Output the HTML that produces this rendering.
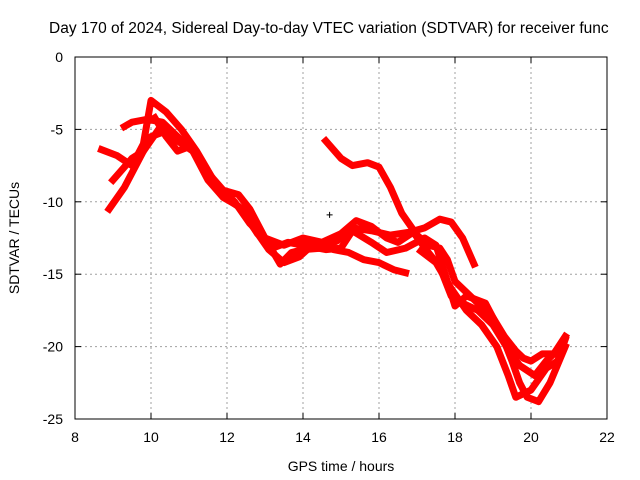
<!DOCTYPE html>
<html><head><meta charset="utf-8"><style>
body{margin:0;background:#fff;}
svg{display:block;font-family:"Liberation Sans",sans-serif;}
</style></head><body>
<svg id="chart" width="640" height="480" viewBox="0 0 640 480">
<rect width="640" height="480" fill="#fff"/>
<text x="49" y="33" font-size="15.5" fill="#000">Day 170 of 2024, Sidereal Day-to-day VTEC variation (SDTVAR) for receiver func</text>
<g id="grid"></g>
<g id="series"></g>
<g id="axes"></g>
<text x="341" y="471" font-size="14" text-anchor="middle">GPS time / hours</text>
<text transform="translate(19,238) rotate(-90)" font-size="14" text-anchor="middle">SDTVAR / TECUs</text>
</svg>
<script>
const xTicks=[8,10,12,14,16,18,20,22];
const yTicks=[0,-5,-10,-15,-20,-25];
const track1=[[8.7,-6.4],[9.1,-6.8],[9.5,-7.5],[9.8,-6],[10.0,-3.0],[10.4,-3.8],[10.8,-5],[11.2,-6.5],[11.6,-8.3],[12,-9.8],[12.4,-10.5],[12.8,-12.2],[13.2,-13.2],[13.6,-12.8],[14,-13],[14.4,-12.8],[14.8,-13.3],[15.2,-13.5],[15.6,-14],[16,-14.2],[16.4,-14.7],[16.7,-14.9]];
const track2=[[8.9,-10.5],[9.3,-9],[9.6,-7.5],[10.0,-5.5],[10.3,-5.2],[10.7,-5.8],[11.1,-6.5],[11.5,-8],[11.9,-9.2],[12.3,-9.5],[12.6,-10.5],[13.0,-12.5],[13.4,-14.3],[13.7,-13.5],[14.0,-13.3],[14.5,-13.2],[14.9,-12.7],[15.3,-11.8],[15.8,-12],[16.3,-12.3],[16.8,-12.1],[17.2,-11.8],[17.6,-11.2],[17.9,-11.4],[18.2,-12.5],[18.5,-14.3]];
const track3=[[14.6,-5.8],[15.0,-7],[15.3,-7.5],[15.7,-7.3],[16.0,-7.6],[16.3,-9],[16.6,-10.8],[17.0,-12.3],[17.3,-13],[17.6,-13.2],[17.8,-14],[18.0,-15.5],[18.4,-16.5],[18.8,-17.5],[19.0,-18],[19.3,-19.3],[19.6,-20.3],[19.8,-20.8],[20.0,-21],[20.3,-20.5],[20.6,-20.5],[20.9,-19.3]];
const track4=[[9.0,-8.5],[9.5,-7],[9.8,-6.5],[10.2,-5],[10.6,-5.5],[11.0,-6],[11.4,-7.8],[11.8,-9],[12.2,-10],[12.6,-11.5],[13,-12.5],[13.5,-13],[14,-12.5],[14.5,-12.8],[15,-12.2],[15.4,-11.3],[15.8,-11.7],[16.2,-12.5],[16.5,-12.8],[16.9,-12.1],[17.3,-13.5],[17.6,-14.5],[17.9,-16.5],[18.2,-17],[18.6,-17.5],[19,-18.5],[19.4,-20.2],[19.7,-21.3],[20.1,-22],[20.4,-21],[20.8,-20]];
const track5=[[9.3,-4.8],[9.5,-4.5],[9.9,-4.3],[10.3,-4.5],[10.7,-5.5],[11.1,-6.5],[11.5,-8.5],[11.9,-9.7],[12.3,-10.3],[12.7,-11.8],[13.1,-13.3],[13.5,-14.2],[13.9,-13.8],[14.2,-13.1],[14.6,-13.3],[15.0,-13.2],[15.3,-12],[15.8,-12.8],[16.2,-13.5],[16.7,-13.2],[17.2,-12.5],[17.5,-13],[17.8,-15.5],[18.0,-17.2],[18.3,-16.5],[18.8,-17],[19.2,-19],[19.5,-21],[19.7,-22.5],[19.9,-23.5],[20.2,-23.8],[20.5,-22.5],[20.9,-20]];
const track6=[[17.1,-13.4],[17.5,-14.2],[17.9,-16],[18.3,-17.5],[18.7,-18.5],[19.1,-20],[19.4,-22],[19.6,-23.5],[20,-23],[20.4,-21.5],[20.7,-21],[20.9,-19.5]];
const track7=[[10.1,-4.2],[10.4,-5.5],[10.7,-6.5],[10.9,-6.3]];
const tracks=[track1,track2,track3,track4,track5,track6,track7];
const blackMark=[14.7,-10.9];

const X0=75,X1=607,Y0=57,Y1=419;
const sx=v=>X0+(v-8)/(22-8)*(X1-X0);
const sy=v=>Y0+(0-v)/25*(Y1-Y0);
const NS='http://www.w3.org/2000/svg';
function mk(tag,attrs,parent){const e=document.createElementNS(NS,tag);for(const k in attrs)e.setAttribute(k,attrs[k]);parent.appendChild(e);return e;}
const grid=document.getElementById('grid'),axes=document.getElementById('axes'),series=document.getElementById('series');
xTicks.forEach(t=>{
  const x=sx(t);
  if(t>8&&t<22){const g=mk('line',{x1:x,y1:Y0,x2:x,y2:Y1,stroke:'#a0a0a0','stroke-dasharray':'2,3'},grid);
  
  }
  mk('line',{x1:x,y1:Y1,x2:x,y2:Y1-6,stroke:'#000'},axes);
  mk('line',{x1:x,y1:Y0,x2:x,y2:Y0+6,stroke:'#000'},axes);
  const l=mk('text',{x:x,y:Y1+23,'font-size':14,'text-anchor':'middle'},axes);
  l.textContent=t;
  
  
});
yTicks.forEach(t=>{
  const y=sy(t);
  if(t<0&&t>-25){const g=mk('line',{x1:X0,y1:y,x2:X1,y2:y,stroke:'#a0a0a0','stroke-dasharray':'2,3'},grid);
  
  }
  mk('line',{x1:X0,y1:y,x2:X0+6,y2:y,stroke:'#000'},axes);
  mk('line',{x1:X1,y1:y,x2:X1-6,y2:y,stroke:'#000'},axes);
  const l=mk('text',{x:X0-12,y:y+5,'font-size':14,'text-anchor':'end'},axes);
  l.textContent=t;
  
  
});
const frame=mk('rect',{x:X0,y:Y0,width:X1-X0,height:Y1-Y0,fill:'none',stroke:'#000'},axes);


tracks.forEach((tr,i)=>{
  const p=mk('polyline',{points:tr.map(d=>sx(d[0])+','+sy(d[1])).join(' '),fill:'none',stroke:'#ff0000','stroke-width':7,'stroke-linejoin':'round','stroke-linecap':'square'},series);
  
  
});
const bx=sx(blackMark[0]),by=sy(blackMark[1]);
const bm=mk('path',{d:`M${bx-3},${by}H${bx+3}M${bx},${by-3}V${by+3}`,stroke:'#000','stroke-width':1},series);


</script>
</body></html>
